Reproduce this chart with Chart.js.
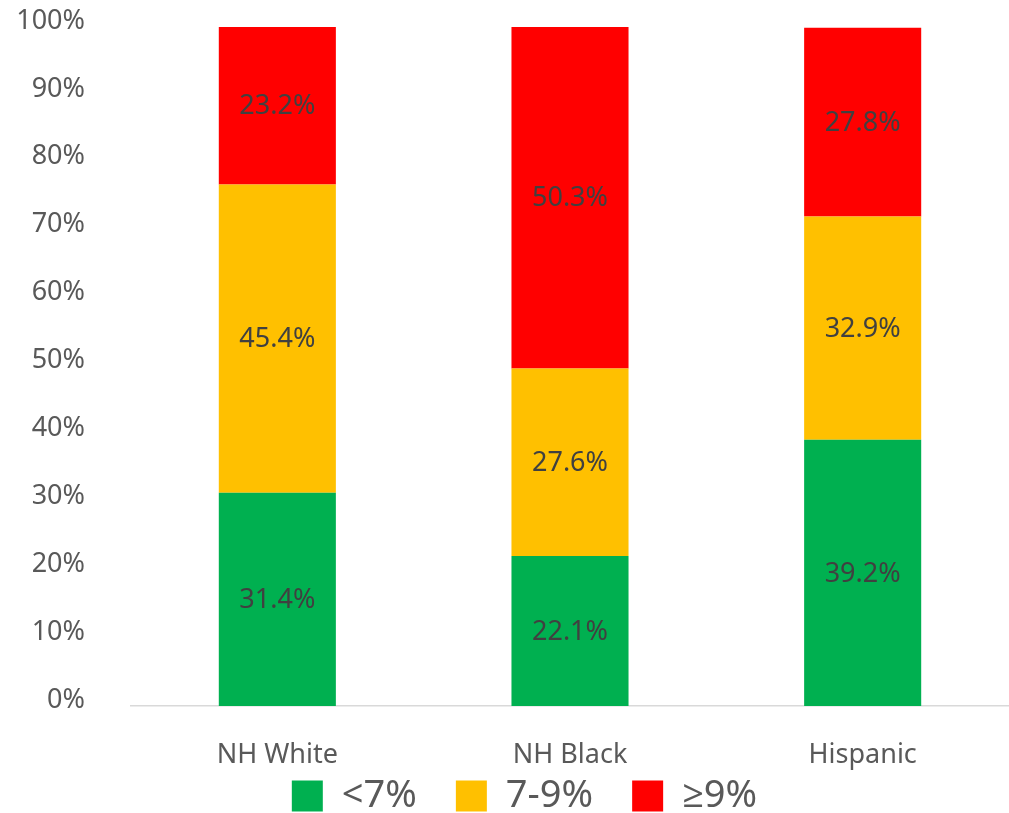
<!DOCTYPE html>
<html>
<head>
<meta charset="utf-8">
<title>HbA1c distribution by race/ethnicity</title>
<script src="https://cdn.jsdelivr.net/npm/chart.js@4/dist/chart.umd.min.js"></script>
<style>
  html, body { margin: 0; padding: 0; background: #ffffff; }
  #wrap { width: 1009px; height: 813px; position: relative; }
</style>
</head>
<body>
<div id="wrap"><canvas id="chart" width="1009" height="813"></canvas></div>
<script>
// Groups along the x axis
const categories = ['NH White', 'NH Black', 'Hispanic'];

// Share of each group (%) in each HbA1c band
const seriesNames = ['<7%', '7-9%', '≥9%'];
const below7 = [31.4, 22.1, 39.2];
const from7to9 = [45.4, 27.6, 32.9];
const atLeast9 = [23.2, 50.3, 27.8];

// Y axis ticks (%)
const yTicks = [0, 10, 20, 30, 40, 50, 60, 70, 80, 90, 100];

const FONT = '"Noto Sans", "Open Sans", sans-serif';
const colors = ['#00B050', '#FFC000', '#FF0000'];

// Writes each segment's value in the middle of its bar segment
const segmentLabels = {
  id: 'segmentLabels',
  afterDatasetsDraw(chart) {
    const ctx = chart.ctx;
    ctx.save();
    ctx.font = '27px ' + FONT;
    ctx.fillStyle = '#404040';
    ctx.textAlign = 'center';
    ctx.textBaseline = 'middle';
    chart.data.datasets.forEach((ds, di) => {
      const meta = chart.getDatasetMeta(di);
      meta.data.forEach((bar, i) => {
        const v = ds.data[i];
        const y = (bar.y + bar.base) / 2;
        ctx.fillText(v.toFixed(1) + '%', bar.x, y + 1);
      });
    });
    ctx.restore();
  }
};

// Places the legend row just under the category labels, centred a little right
const legendPlacement = {
  id: 'legendPlacement',
  afterLayout(chart) {
    const lg = chart.legend;
    if (!lg) return;
    lg.left = 40;
    lg.top = 738;
    lg.bottom = chart.height;
  }
};

const seriesData = [below7, from7to9, atLeast9];

new Chart(document.getElementById('chart'), {
  type: 'bar',
  data: {
    labels: categories,
    datasets: seriesNames.map((name, k) => ({
      label: name,
      data: seriesData[k],
      backgroundColor: colors[k],
      borderWidth: 0,
      categoryPercentage: 1.0,
      barPercentage: 0.4
    }))
  },
  options: {
    responsive: false,
    animation: false,
    layout: { padding: { left: 0, right: 0, top: 27, bottom: 0 } },
    plugins: {
      tooltip: { enabled: false },
      title: { display: false },
      legend: {
        position: 'bottom',
        maxHeight: 42,
        labels: {
          boxWidth: 31,
          boxHeight: 31,
          padding: 39,
          color: '#595959',
          font: { family: FONT, size: 38 }
        }
      }
    },
    scales: {
      x: {
        stacked: true,
        grid: { display: false },
        border: { display: true, color: '#d9d9d9', width: 1.5 },
        ticks: {
          color: '#595959',
          padding: 25,
          maxRotation: 0,
          autoSkip: false,
          font: { family: FONT, size: 27 }
        },
        afterFit(scale) {
          scale.height = 65;
          scale.paddingLeft = 0;
          scale.paddingRight = 0;
        }
      },
      y: {
        stacked: true,
        min: 0,
        max: 100,
        grid: { display: false },
        border: { display: false },
        afterBuildTicks(scale) { scale.ticks = yTicks.map(v => ({ value: v })); },
        ticks: {
          color: '#595959',
          padding: 38,
          labelOffset: -6,
          font: { family: FONT, size: 27 },
          callback: (v) => v + '%'
        },
        afterFit(scale) {
          scale.width = 131;
          scale.paddingTop = 0;
          scale.paddingBottom = 0;
        }
      }
    }
  },
  plugins: [segmentLabels, legendPlacement]
});
</script>
</body>
</html>
